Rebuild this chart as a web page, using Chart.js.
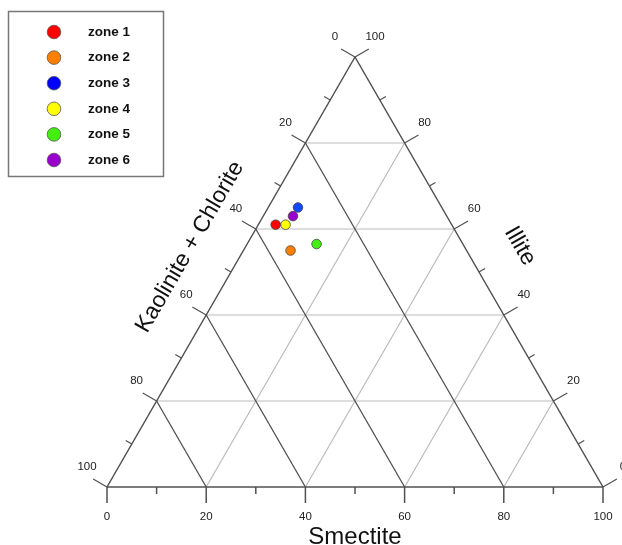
<!DOCTYPE html>
<html lang="en">
<head>
    <meta charset="UTF-8">
    <title>Ternary clay diagram</title>
    <script src="https://cdn.jsdelivr.net/npm/chart.js"></script>
    <style>
        body { margin: 0; background: #fff; }
        #wrap { width: 622px; height: 545px; }
    </style>
</head>
<body>
    <div id="wrap"><canvas id="ternary" width="622" height="545"></canvas></div>

    <script>
        // zone compositions (%)
        const zones = ['zone 1', 'zone 2', 'zone 3', 'zone 4', 'zone 5', 'zone 6'];
        const smectite  = [3.5, 9.5, 6, 5.5, 14, 6];
        const kaolinite = [35.5, 35.5, 29, 33.5, 29.5, 31];
        const illite    = [61, 55, 65, 61, 56.5, 63];
        const zoneColors = ['#ff0000', '#ff7f00', '#1448ff', '#ffff00', '#44ee11', '#9900cc'];
        const axisTicks = [0, 20, 40, 60, 80, 100];

        const H = Math.sqrt(3) / 2;

        // smectite grows to the right, illite to the top, kaolinite + chlorite is the rest
        function toXY(s, i) {
            return { x: s + i / 2, y: i * H };
        }

        const datasets = zones.map((z, k) => ({
            label: z,
            data: [toXY(smectite[k], illite[k])],
            backgroundColor: zoneColors[k],
            borderColor: '#444',
            borderWidth: 0.8,
            pointRadius: 4.8
        }));

        const ternaryPlugin = {
            id: 'ternary',
            beforeDatasetsDraw(chart) {
                const ctx = chart.ctx;
                const sx = chart.scales.x, sy = chart.scales.y;
                const px = (s, i) => {
                    const p = toXY(s, i);
                    return [sx.getPixelForValue(p.x), sy.getPixelForValue(p.y)];
                };
                const line = (a, b, color, w) => {
                    ctx.beginPath();
                    ctx.moveTo(a[0], a[1]);
                    ctx.lineTo(b[0], b[1]);
                    ctx.strokeStyle = color;
                    ctx.lineWidth = w;
                    ctx.stroke();
                };

                ctx.save();
                // light grid: constant illite and constant smectite
                for (const v of [20, 40, 60, 80]) {
                    line(px(0, v), px(100 - v, v), '#bbb', 1.2);
                    line(px(v, 0), px(v, 100 - v), '#bbb', 1.2);
                }
                // dark grid: constant kaolinite + chlorite
                for (const v of [20, 40, 60, 80]) {
                    line(px(100 - v, 0), px(0, 100 - v), '#505050', 1.3);
                }
                // triangle
                line(px(0, 0), px(100, 0), '#505050', 1.5);
                line(px(100, 0), px(0, 100), '#505050', 1.5);
                line(px(0, 100), px(0, 0), '#505050', 1.5);

                // ticks and labels
                const c30 = Math.cos(Math.PI / 6), s30 = 0.5;
                ctx.font = '11.5px "Liberation Sans", Arial, sans-serif';
                ctx.fillStyle = '#222';
                ctx.textAlign = 'center';
                ctx.textBaseline = 'middle';
                for (const v of [0, 10, 20, 30, 40, 50, 60, 70, 80, 90, 100]) {
                    const major = axisTicks.includes(v);
                    const len = major ? 16 : 7;
                    // bottom: smectite
                    let p = px(v, 0);
                    line(p, [p[0], p[1] + len], '#505050', 1.5);
                    if (major) ctx.fillText(String(v), p[0], p[1] + 30);
                    // left: kaolinite + chlorite
                    p = px(0, 100 - v);
                    line(p, [p[0] - c30 * len, p[1] - s30 * len], '#505050', 1.2);
                    if (major) ctx.fillText(String(v), p[0] - 20, p[1] - 20);
                    // right: illite
                    p = px(100 - v, v);
                    line(p, [p[0] + c30 * len, p[1] - s30 * len], '#505050', 1.2);
                    if (major) ctx.fillText(String(v), p[0] + 20, p[1] - 20);
                }

                // axis titles
                ctx.fillStyle = '#111';
                ctx.font = '24px "Liberation Sans", Arial, sans-serif';
                const b = px(50, 0);
                ctx.fillText('Smectite', b[0], b[1] + 50);

                ctx.font = '23px "Liberation Sans", Arial, sans-serif';
                ctx.save();
                ctx.translate(190, 247);
                ctx.rotate(-Math.PI / 3);
                ctx.fillText('Kaolinite + Chlorite', 0, 0);
                ctx.restore();

                ctx.save();
                ctx.translate(520, 246);
                ctx.rotate(Math.PI / 3);
                ctx.fillText('Illite', 0, 0);
                ctx.restore();
                ctx.restore();
            },
            afterDraw(chart) {
                // legend box in the top-left corner
                const ctx = chart.ctx;
                ctx.save();
                ctx.fillStyle = '#fff';
                ctx.fillRect(8.5, 11.5, 155, 165);
                ctx.strokeStyle = '#777';
                ctx.lineWidth = 1.5;
                ctx.strokeRect(8.5, 11.5, 155, 165);
                ctx.font = 'bold 13.5px "Liberation Sans", Arial, sans-serif';
                ctx.textAlign = 'left';
                ctx.textBaseline = 'middle';
                chart.data.datasets.forEach((ds, k) => {
                    const y = 32 + k * 25.6;
                    ctx.beginPath();
                    ctx.arc(54, y, 6.8, 0, Math.PI * 2);
                    ctx.fillStyle = k === 2 ? '#0000ff' : ds.backgroundColor;
                    ctx.fill();
                    ctx.strokeStyle = '#555';
                    ctx.lineWidth = 0.8;
                    ctx.stroke();
                    ctx.fillStyle = '#111';
                    ctx.fillText(ds.label, 88, y);
                });
                ctx.restore();
            }
        };

        new Chart(document.getElementById('ternary').getContext('2d'), {
            type: 'scatter',
            data: { datasets },
            options: {
                responsive: false,
                animation: false,
                devicePixelRatio: 1,
                layout: { padding: { left: 107, right: 19, top: 57, bottom: 58 } },
                scales: {
                    x: { type: 'linear', min: 0, max: 100, display: false },
                    y: { type: 'linear', min: 0, max: 100 * H, display: false }
                },
                plugins: {
                    legend: { display: false },
                    tooltip: { enabled: false }
                },
                clip: false
            },
            plugins: [ternaryPlugin]
        });
    </script>
</body>
</html>
